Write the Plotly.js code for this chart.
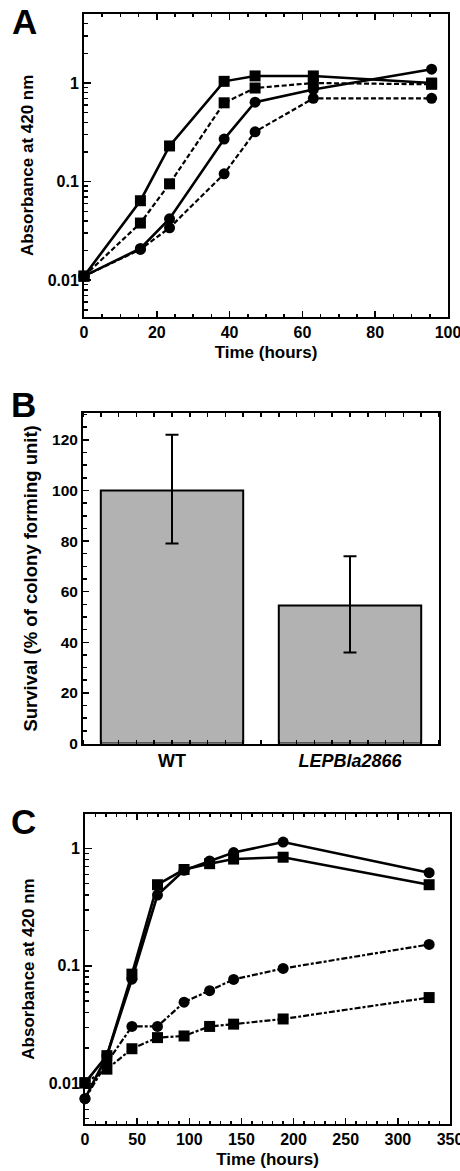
<!DOCTYPE html>
<html>
<head>
<meta charset="utf-8">
<script src="https://cdn.plot.ly/plotly-3.0.1.min.js"></script>
<style>html,body{margin:0;padding:0;background:#fff;}#chart{width:460px;height:1171px;}</style>
</head>
<body>
<div id="chart"></div>
<script>
// ---------- Panel A data ----------
const timeA = [0, 15.5, 23.5, 38.5, 47, 63, 95.5];
const aSquareSolid  = [0.011, 0.064, 0.23, 1.04, 1.18, 1.18, 1.0];
const aSquareDashed = [0.011, 0.038, 0.095, 0.63, 0.89, 1.0, 0.97];
const aCircleSolid  = [0.011, 0.021, 0.042, 0.27, 0.64, 0.86, 1.38];
const aCircleDashed = [0.011, 0.0205, 0.034, 0.12, 0.32, 0.70, 0.70];

// ---------- Panel B data ----------
const strainsB = ['WT', 'LEPBla2866'];
const survivalB = [100, 54.5];
const errPlusB  = [22, 19.5];
const errMinusB = [21, 18.5];
const strainLabelsB = ['<b>WT</b>', '<b><i>LEPBla2866</i></b>'];

// ---------- Panel C data ----------
const timeC = [0, 21, 45, 69.5, 95, 119.5, 142.5, 190, 330];
const cCircleSolid  = [0.0074, 0.0172, 0.077, 0.40, 0.65, 0.78, 0.92, 1.13, 0.62];
const cSquareSolid  = [0.0101, 0.0172, 0.085, 0.49, 0.66, 0.74, 0.81, 0.84, 0.49];
const cCircleDashed = [0.0074, 0.0150, 0.0305, 0.0305, 0.049, 0.0614, 0.0766, 0.095, 0.152];
const cSquareDashed = [0.0101, 0.0132, 0.0197, 0.0245, 0.0253, 0.0305, 0.0319, 0.0353, 0.0537];

const logTickVals = [0.01, 0.1, 1];
const logTickText = ['0.01', '0.1', '1'];

// ---------- layout helpers ----------
const W = 460, H = 1171;
const dx = (l, r) => [l / W, r / W];
const dy = (t, b) => [1 - b / H, 1 - t / H];
const FONT = 'Liberation Sans, Arial, Helvetica, sans-serif';
function minorLog(lo, hi) {
  const v = [];
  for (let e = lo; e <= hi; e++) for (let d = 2; d <= 9; d++) v.push(d * Math.pow(10, e));
  return v;
}

const mk = (sym) => ({symbol: sym, size: 11, color: '#000'});
const solid = {color: '#000', width: 2.6};
const dashA = {color: '#000', width: 2.2, dash: '5px,2.5px'};
const dashC = {color: '#000', width: 2.2, dash: '6px,2px,3px,2px'};

function line(x, y, sym, ln, xa, ya) {
  return {x: x, y: y, type: 'scatter', mode: 'lines+markers', marker: mk(sym), line: ln,
          xaxis: xa, yaxis: ya, cliponaxis: false, showlegend: false, hoverinfo: 'skip'};
}

const traces = [
  line(timeA, aCircleDashed, 'circle', dashA, 'x', 'y'),
  line(timeA, aSquareDashed, 'square', dashA, 'x', 'y'),
  line(timeA, aCircleSolid, 'circle', solid, 'x', 'y'),
  line(timeA, aSquareSolid, 'square', solid, 'x', 'y'),
  {
    x: strainsB.map((s, i) => i), y: survivalB, type: 'bar', width: 0.8,
    marker: {color: '#b2b2b2', line: {color: '#000', width: 2}},
    error_y: {type: 'data', array: errPlusB, arrayminus: errMinusB, visible: true,
              color: '#000', thickness: 2, width: 6.5},
    xaxis: 'x2', yaxis: 'y2', showlegend: false, hoverinfo: 'skip'
  },
  line(timeC, cCircleDashed, 'circle', dashC, 'x3', 'y3'),
  line(timeC, cSquareDashed, 'square', dashC, 'x3', 'y3'),
  line(timeC, cSquareSolid, 'square', solid, 'x3', 'y3'),
  line(timeC, cCircleSolid, 'circle', solid, 'x3', 'y3'),
];

const tickFont = {family: FONT, size: 16, color: '#000', weight: 'bold'};
const titleFont = {family: FONT, size: 17, color: '#000', weight: 'bold'};
const baseAx = {showline: true, linecolor: '#000', linewidth: 2, zeroline: false, showgrid: false,
                ticks: 'inside', tickcolor: '#000', tickwidth: 1.5, tickfont: tickFont, fixedrange: true,
                layer: 'above traces', ticklabeloverflow: 'allow'};

const layout = {
  width: W, height: H,
  margin: {l: 0, r: 0, t: 0, b: 0},
  paper_bgcolor: '#fff', plot_bgcolor: '#fff',
  showlegend: false,
  font: {family: FONT, color: '#000'},
  // Panel A
  xaxis: Object.assign({}, baseAx, {
    domain: dx(84, 448), anchor: 'y', range: [0, 100], dtick: 20, tick0: 0, ticklen: 6, mirror: 'ticks',
    minor: {dtick: 5, ticklen: 3, ticks: 'inside', tickcolor: '#000', tickwidth: 1.5},
    title: {text: 'Time (hours)', font: titleFont, standoff: 6}
  }),
  yaxis: Object.assign({}, baseAx, {
    domain: dy(14, 316.7), anchor: 'x', type: 'log', range: [-2.37, 0.70], mirror: true,
    tickmode: 'array', tickvals: logTickVals, ticktext: logTickText, ticklen: 7,
    minor: {tickmode: 'array', tickvals: minorLog(-3, 0), ticklen: 3.5, ticks: 'inside', tickcolor: '#000', tickwidth: 1.5},
    title: {text: 'Absorbance at 420 nm', font: titleFont, standoff: 10}
  }),
  // Panel B
  xaxis2: Object.assign({}, baseAx, {
    domain: dx(83, 439), anchor: 'y2', range: [-0.5, 1.5], mirror: 'ticks', ticks: '',
    tickmode: 'array', tickvals: strainsB.map((s, i) => i), ticktext: strainLabelsB,
    tickfont: {family: FONT, size: 18, color: '#000'},
    minor: {dtick: 0.1, tick0: 0, ticklen: 4, ticks: 'inside', tickcolor: '#000', tickwidth: 1.5}
  }),
  xaxis4: Object.assign({}, baseAx, {
    overlaying: 'x2', anchor: 'y2', range: [-0.5, 1.5], showline: false, showticklabels: false,
    mirror: 'ticks', tickmode: 'array', tickvals: [0.5], ticklen: 7.5
  }),
  yaxis2: Object.assign({}, baseAx, {
    domain: dy(413.3, 743.5), anchor: 'x2', range: [0, 130.5], dtick: 20, tick0: 0, ticklen: 6, mirror: true,
    tickfont: {family: FONT, size: 15.5, color: '#000', weight: 'bold'},
    minor: {dtick: 5, ticklen: 3.5, ticks: 'inside', tickcolor: '#000', tickwidth: 1.5},
    title: {text: 'Survival (% of colony forming unit)', font: {family: FONT, size: 18.5, color: '#000', weight: 'bold'}, standoff: 10}
  }),
  // Panel C
  xaxis3: Object.assign({}, baseAx, {
    domain: dx(85, 450), anchor: 'y3', range: [0, 350], dtick: 50, tick0: 0, ticklen: 6, mirror: 'ticks',
    minor: {dtick: 10, ticklen: 3, ticks: 'inside', tickcolor: '#000', tickwidth: 1.5},
    title: {text: 'Time (hours)', font: titleFont, standoff: 6}
  }),
  yaxis3: Object.assign({}, baseAx, {
    domain: dy(814, 1124), anchor: 'x3', type: 'log', range: [-2.346, 0.292], mirror: true,
    tickmode: 'array', tickvals: logTickVals, ticktext: logTickText, ticklen: 7,
    minor: {tickmode: 'array', tickvals: minorLog(-3, 0), ticklen: 3.5, ticks: 'inside', tickcolor: '#000', tickwidth: 1.5},
    title: {text: 'Absorbance at 420 nm', font: titleFont, standoff: 10}
  }),
  annotations: [
    {text: '<b>A</b>', x: 24 / W, y: 1 - 22 / H},
    {text: '<b>B</b>', x: 23 / W, y: 1 - 404 / H},
    {text: '<b>C</b>', x: 23 / W, y: 1 - 821 / H}
  ].map(a => Object.assign({xref: 'paper', yref: 'paper', showarrow: false, xanchor: 'center', yanchor: 'middle',
                            font: {family: FONT, size: 35, color: '#000'}}, a))
};

Plotly.newPlot('chart', traces, layout, {staticPlot: true, displayModeBar: false});
</script>
</body>
</html>
